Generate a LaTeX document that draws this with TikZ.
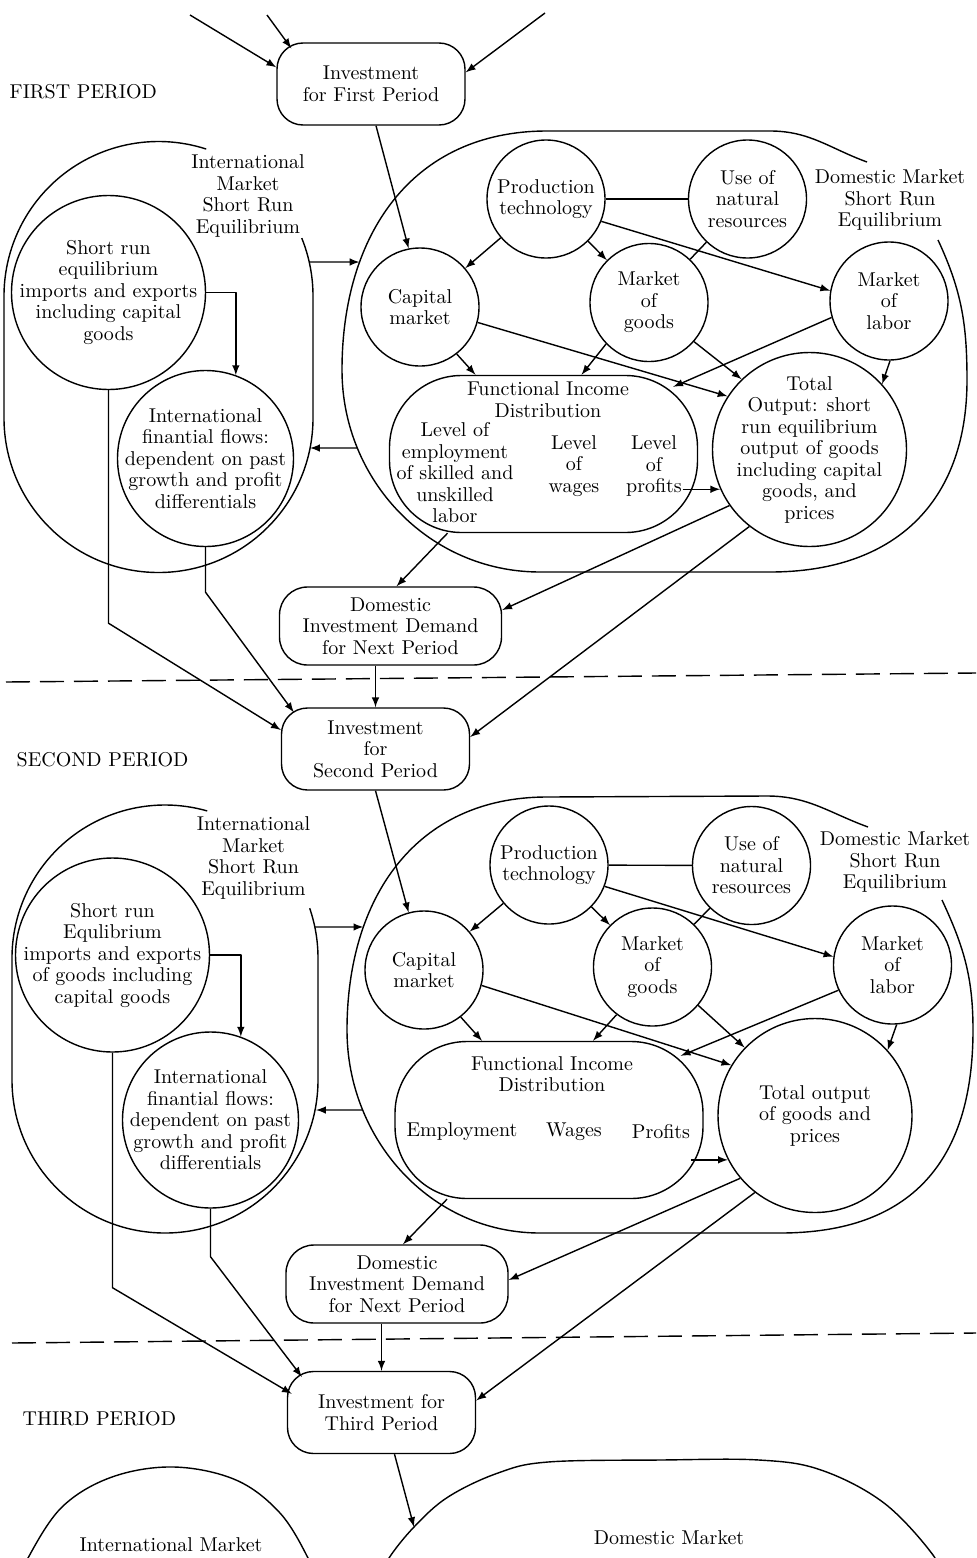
\documentclass[tikz,border=0pt]{standalone}
\usetikzlibrary{calc,intersections}
\newcommand\diagfont{\fontsize{10}{10.75}\selectfont}
\tikzset{
  blob/.style={draw, circle, inner sep=-20pt, align=center, font=\diagfont},
  smallblob/.style={blob, minimum size=59pt},
  flowblob/.style={blob, minimum size=88pt},
  bigblob/.style={blob, minimum size=97pt},
  invbox/.style={draw, rounded corners=13pt, minimum width=94pt, minimum height=41pt, inner sep=0pt, align=center, font=\diagfont},
  demandbox/.style={draw, rounded corners=14pt, minimum width=111pt, minimum height=39pt, inner sep=0pt, align=center, font=\diagfont},
  incomebox/.style={draw, rounded corners=36pt, minimum width=154pt, minimum height=78.5pt, inner sep=0pt},
  lbl/.style={align=center, inner sep=0pt, font=\diagfont},
  period/.style={anchor=west, inner sep=0pt, font=\diagfont},
  cut/.style={dash pattern=on 12pt off 5pt},
}
\begin{document}
\begin{tikzpicture}[x=0.5pt,y=0.5pt,>=latex,line join=bevel,]
  \pgfsetlinewidth{0.7bp}
  \useasboundingbox (0,0) rectangle (976,-1558);
  \clip (0,0) rectangle (976,-1558);
%%
  % Node: inv1
  \node[invbox] (inv1) at (371,-84) {Investment\\for First Period};
  \node[period] (per1) at (9,-92) {FIRST PERIOD};
  \coordinate (srcA) at (190,-15);
  \coordinate (srcB) at (267,-15);
  \coordinate (srcC) at (545,-13);
  % Edge: srcA -> inv1
  \draw [->] (srcA) -- (inv1.170);
  % Edge: srcB -> inv1
  \draw [->] (srcB) -- ($(inv1.north west)+(15,-6)$);
  % Edge: srcC -> inv1
  \draw [->] (srcC) -- (inv1.7);
  % Region: intl1
  \draw ([shift={(72:154.5)}]158.5,-296) arc[start angle=72, end angle=180, radius=154.5] -- (4,-418)
    arc[start angle=180, end angle=360, radius=154.5] -- (313,-296) arc[start angle=0, end angle=22, radius=154.5];
  \node[lbl] (intlname1) at (248,-196) {International\\Market\\Short Run\\Equilibrium};
  \coordinate (intl1out) at (309,-262);
  \coordinate (intl1in) at (310,-448);
  % Region: dom1
  \draw [name path=dom1] (867,-162) to[out=160,in=0] (770,-131) -- (547,-131)
    to[out=180,in=90,looseness=1.1] (342,-370) to[out=-90,in=180] (540,-572) -- (770,-572)
    to[out=0,in=-90,looseness=1.15] (967,-380) to[out=90,in=-65] (938,-240);
  \node[lbl] (domname1) at (890,-200) {Domestic Market\\Short Run\\Equilibrium};
  \path [name path=row1a] (320,-262) -- (450,-262);
  \path [name path=row1b] (320,-448) -- (450,-448);
  \path [name intersections={of=dom1 and row1a, by=dom1in}];
  \path [name intersections={of=dom1 and row1b, by=dom1out}];
  % Node: sr1
  \node[bigblob] (sr1) at (108.5,-292.5) {Short run\\equilibrium\\imports and exports\\including capital\\goods};
  % Node: iff1
  \node[flowblob] (iff1) at (205.5,-458.5) {International\\finantial flows:\\dependent on past\\growth and profit\\differentials};
  % Node: pt1
  \node[smallblob] (pt1) at (546,-199) {Production\\technology};
  % Node: un1
  \node[smallblob] (un1) at (747.5,-199) {Use of\\natural\\resources};
  % Node: cap1
  \node[smallblob] (cap1) at (420,-307) {Capital\\market};
  % Node: mg1
  \node[smallblob] (mg1) at (649,-302.5) {Market\\of\\goods};
  % Node: ml1
  \node[smallblob] (ml1) at (889,-301) {Market\\of\\labor};
  % Node: to1
  \node[bigblob] (to1) at (809.5,-449.5) {Total\\Output: short\\run equilibrium\\output of goods\\including capital\\goods, and\\prices};
  % Node: fid1
  \node[incomebox] (fid1) at (543.5,-454) {};
  \node[lbl] (fidt1) at (548,-399.5) {Functional Income\\Distribution};
  \node[lbl] (emp1) at (455,-473) {Level of\\employment\\of skilled and\\unskilled\\labor};
  \node[lbl] (wag1) at (574,-466) {Level\\of\\wages};
  \node[lbl] (pro1) at (654,-466) {Level\\of\\profits};
  % Node: did1
  \node[demandbox] (did1) at (390.5,-626) {Domestic\\Investment Demand\\for Next Period};
  % Edge: inv1 -> cap1
  \draw [->] ($(inv1.south)+(5,0)$) -- (cap1.101);
  % Edge: sr1 -> iff1
  \draw [->] (sr1.east) -| (iff1.70);
  % Edge: intl1 -> dom1
  \draw [->] (intl1out) -- (dom1in);
  % Edge: dom1 -> intl1
  \draw [->] (dom1out) -- (intl1in);
  % Edge: pt1 -> cap1, mg1, ml1
  \draw [->] (pt1) -- (cap1);
  \draw [->] (pt1) -- (mg1);
  \draw [->] (pt1.-22) -- (ml1.170);
  % Edge: pt1 -- un1 -- mg1
  \draw (pt1) -- (un1);
  \draw (un1) -- (mg1);
  % Edge: cap1 -> to1, fid1
  \draw [->] (cap1.-15) -- (to1.147);
  \draw [->] (cap1.-52) -- ($(fid1.north)+(-68,0)$);
  % Edge: mg1 -> fid1, to1
  \draw [->] (mg1.-136) -- ($(fid1.north)+(38,0)$);
  \draw [->] (mg1.-41) -- (to1.134);
  % Edge: ml1 -> fid1, to1
  \draw [->] (ml1.-164) -- ($(fid1.north east)+(-25,-12)$);
  \draw [->] (ml1.-89) -- (to1.42);
  % Edge: pro1 -> to1
  \draw [->] (pro1.east |- to1.-156) -- (to1.-156);
  % Edge: fid1 -> did1
  \draw [->] ($(fid1.south)+(-96,0)$) -- ($(did1.north)+(6,0)$);
  % Edge: to1 -> did1
  \draw [->] (to1.-145) -- ($(did1.east)+(0,16)$);
%
  \coordinate (cut1w) at (6,-682);
  \coordinate (cut1e) at (976,-673);
  \draw [cut] (cut1w) -- (cut1e);
%%
  % Node: inv2
  \node[invbox] (inv2) at (375.5,-749) {Investment\\for\\Second Period};
  \node[period] (per2) at (16,-760) {SECOND PERIOD};
  % Edge: sr1 -> inv2
  \draw [->] (sr1.south) -- ++(0,-233) -- ($(inv2.west)+(0,19)$);
  % Edge: iff1 -> inv2
  \draw [->] (iff1.south) -- ++(0,-45) -- ($(inv2.north west)+(13,-5)$);
  % Edge: to1 -> inv2
  \draw [->] (to1.-128) -- ($(inv2.east)+(0,12)$);
  % Edge: did1 -> inv2
  \draw [->] (did1.south -| inv2.north) -- (inv2.north);
  % Region: intl2
  \draw ([shift={(74:153)}]165,-958) arc[start angle=74, end angle=180, radius=153] -- (12,-1080)
    arc[start angle=180, end angle=360, radius=153] -- (318,-958) arc[start angle=0, end angle=19, radius=153];
  \node[lbl] (intlname2) at (253.5,-858) {International\\Market\\Short Run\\Equilibrium};
  \coordinate (intl2out) at (315,-927);
  \coordinate (intl2in) at (316,-1110);
  % Region: dom2
  \draw [name path=dom2] (868,-827) to[out=160,in=0] (767,-796) -- (547,-797)
    to[out=180,in=90,looseness=1.1] (347,-1030) to[out=-90,in=180] (540,-1233) -- (780,-1233)
    to[out=0,in=-90,looseness=1.2] (973,-1030) to[out=90,in=-65] (942,-900);
  \node[lbl] (domname2) at (895,-862) {Domestic Market\\Short Run\\Equilibrium};
  \path [name path=row2a] (320,-927) -- (450,-927);
  \path [name path=row2b] (320,-1110) -- (450,-1110);
  \path [name intersections={of=dom2 and row2a, by=dom2in}];
  \path [name intersections={of=dom2 and row2b, by=dom2out}];
  % Node: sr2
  \node[bigblob] (sr2) at (112.5,-955) {Short run\\Equlibrium\\imports and exports\\of goods including\\capital goods};
  % Node: iff2
  \node[flowblob] (iff2) at (210.5,-1120) {International\\finantial flows:\\dependent on past\\growth and profit\\differentials};
  % Node: pt2
  \node[smallblob] (pt2) at (549,-865) {Production\\technology};
  % Node: un2
  \node[smallblob] (un2) at (751.5,-865.5) {Use of\\natural\\resources};
  % Node: cap2
  \node[smallblob] (cap2) at (424,-970) {Capital\\market};
  % Node: mg2
  \node[smallblob] (mg2) at (652.5,-967) {Market\\of\\goods};
  % Node: ml2
  \node[smallblob] (ml2) at (892.5,-965) {Market\\of\\labor};
  % Node: to2
  \node[bigblob] (to2) at (815,-1115.5) {Total output\\of goods and\\prices};
  % Node: fid2
  \node[incomebox] (fid2) at (549,-1120) {};
  \node[lbl] (fidt2) at (552,-1074) {Functional Income\\Distribution};
  \node[lbl] (emp2) at (462,-1132) {Employment};
  \node[lbl] (wag2) at (574,-1132) {Wages};
  \node[lbl] (pro2) at (661,-1132) {Profits};
  % Node: did2
  \node[demandbox] (did2) at (397,-1284) {Domestic\\Investment Demand\\for Next Period};
  % Edge: inv2 -> cap2
  \draw [->] (inv2.south) -- (cap2.105);
  % Edge: sr2 -> iff2
  \draw [->] (sr2.east) -| (iff2.70);
  % Edge: intl2 -> dom2
  \draw [->] (intl2out) -- (dom2in);
  % Edge: dom2 -> intl2
  \draw [->] (dom2out) -- (intl2in);
  % Edge: pt2 -> cap2, mg2, ml2
  \draw [->] (pt2) -- (cap2);
  \draw [->] (pt2) -- (mg2);
  \draw [->] (pt2.-21) -- (ml2.172);
  % Edge: pt2 -- un2 -- mg2
  \draw (pt2) -- (un2);
  \draw (un2) -- (mg2);
  % Edge: cap2 -> to2, fid2
  \draw [->] (cap2.-15) -- (to2.149);
  \draw [->] (cap2.-52) -- ($(fid2.north)+(-67,0)$);
  % Edge: mg2 -> fid2, to2
  \draw [->] (mg2.-127) -- ($(fid2.north)+(44,0)$);
  \draw [->] (mg2.-40) -- (to2.136);
  % Edge: ml2 -> fid2, to2
  \draw [->] (ml2.-155) -- ($(fid2.north east)+(-23,-15)$);
  \draw [->] (ml2.-86) -- (to2.42);
  % Edge: pro2 -> to2
  \draw [->] (pro2.east |- to2.-153) -- (to2.-153);
  % Edge: fid2 -> did2
  \draw [->] ($(fid2.south)+(-102,0)$) -- ($(did2.north)+(6,0)$);
  % Edge: to2 -> did2
  \draw [->] (to2.-140) -- ($(did2.east)+(0,4)$);
%
  \coordinate (cut2w) at (12,-1343);
  \coordinate (cut2e) at (976,-1333);
  \draw [cut] (cut2w) -- (cut2e);
%%
  % Node: inv3
  \node[invbox] (inv3) at (381.5,-1412.5) {Investment for\\Third Period};
  \node[period] (per3) at (22,-1419) {THIRD PERIOD};
  % Edge: sr2 -> inv3
  \draw [->] (sr2.south) -- ++(0,-235) -- ($(inv3.north west)+(5,-23)$);
  % Edge: iff2 -> inv3
  \draw [->] (iff2.south) -- ++(0,-48) -- ($(inv3.north west)+(15,-6)$);
  % Edge: to2 -> inv3
  \draw [->] (to2.-128) -- ($(inv3.east)+(0,12)$);
  % Edge: did2 -> inv3
  \draw [->] (did2.south -| inv3.north) -- (inv3.north);
  % Region: intl3, dom3
  \draw plot[smooth, tension=0.6] coordinates {(24,-1575) (28,-1558) (62,-1507) (112,-1477) (174,-1467)
    (236,-1480) (280,-1513) (308,-1558) (312,-1575)};
  \draw plot[smooth, tension=0.6] coordinates {(383,-1575) (389,-1558) (414,-1527) (448,-1497) (498,-1473)
    (548,-1462) (660,-1460) (759,-1460) (821,-1470) (884,-1503) (933,-1555) (937,-1575)};
  \coordinate (dom3in) at (414,-1527);
  \node[lbl] (intlname3) at (171,-1545) {International Market};
  \node[lbl] (domname3) at (669,-1538) {Domestic Market};
  % Edge: inv3 -> dom3
  \draw [->] ($(inv3.south)+(13,0)$) -- (dom3in);
%
\end{tikzpicture}
\end{document}
